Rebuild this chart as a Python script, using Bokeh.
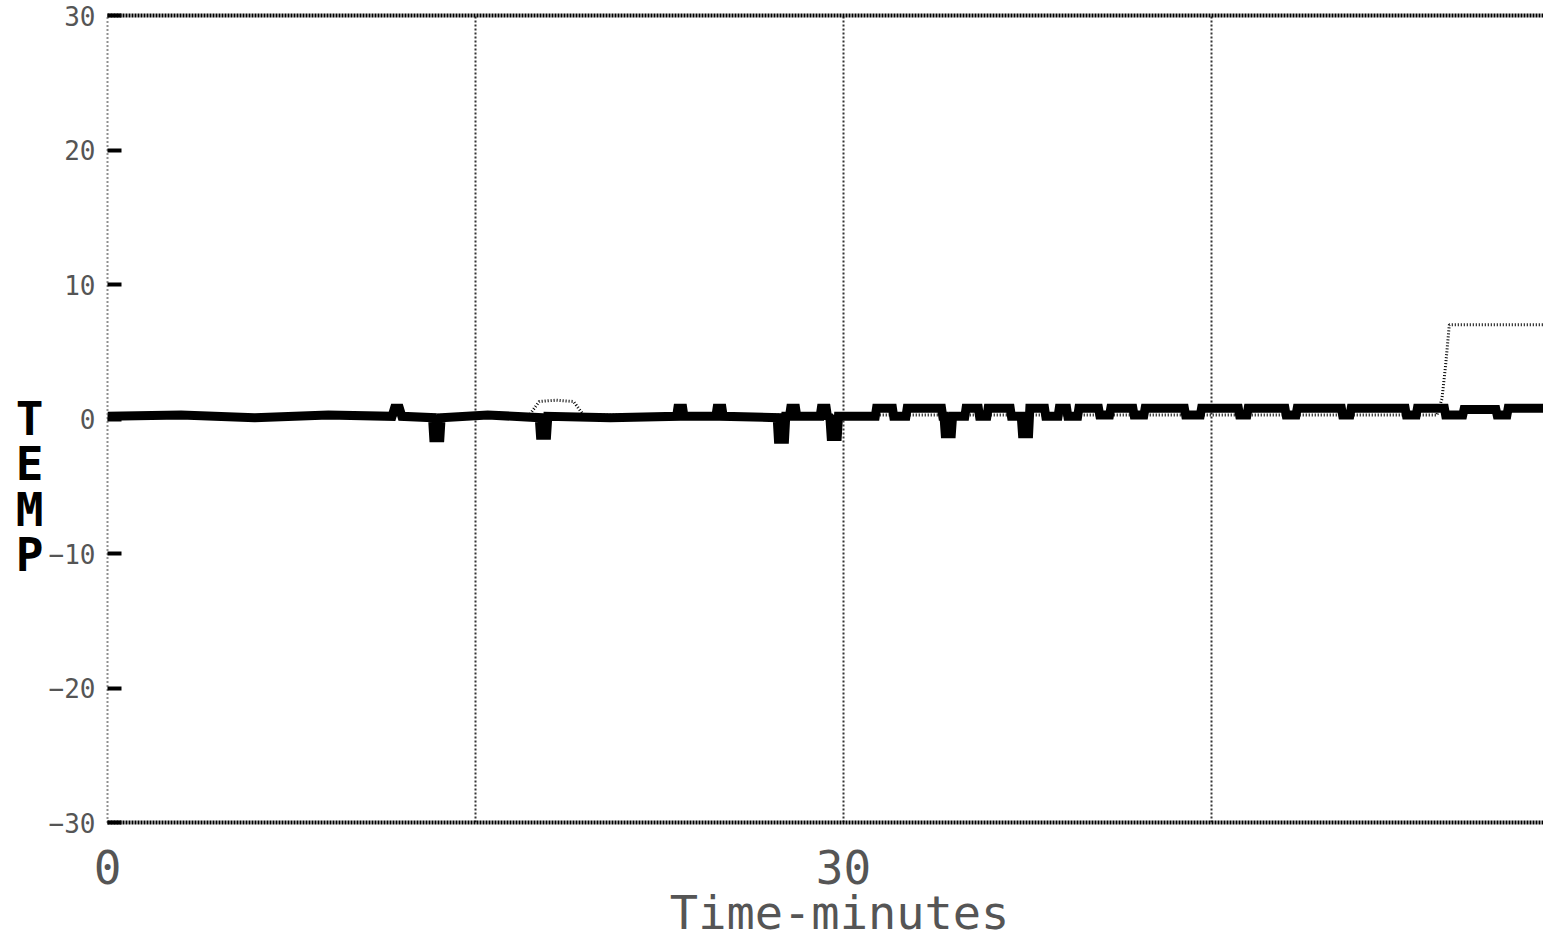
from bokeh.plotting import figure
from bokeh.models import Range1d, FixedTicker, LinearAxis
from bokeh.embed import file_html
from bokeh.resources import INLINE

# ---- data ----
# main trace (thick), time in minutes, TEMP values
trace_t = [0.0, 3.0, 6.0, 9.0, 11.6, 11.7, 11.9, 12.0, 13.25, 13.3, 13.55, 13.6, 15.5,
           17.6, 17.65, 17.9, 17.95, 20.5, 23.2, 23.25, 23.45, 23.5, 24.8, 24.85, 25.05,
           25.1, 27.3, 27.35, 27.6, 27.65, 27.8, 27.85, 28.05, 28.1, 29.05, 29.1, 29.3,
           29.35, 29.45, 29.5, 29.75, 29.8, 31.3, 31.35, 32.0, 32.05, 32.55, 32.6, 34.0,
           34.05, 34.1, 34.15, 34.4, 34.45, 34.95, 35.0, 35.5, 35.55, 35.85, 35.9, 36.8,
           36.85, 37.25, 37.3, 37.55, 37.6, 38.2, 38.25, 38.75, 38.8, 39.1, 39.15, 39.55,
           39.6, 40.4, 40.45, 40.85, 40.9, 41.8, 41.85, 42.25, 42.3, 43.9, 43.95, 44.55,
           44.6, 46.1, 46.15, 46.45, 46.5, 48.0, 48.05, 48.45, 48.5, 50.3, 50.35, 50.65,
           50.7, 52.9, 52.95, 53.35, 53.4, 54.5, 54.55, 55.25, 55.3, 56.6, 56.65, 57.05,
           57.1, 58.9]
trace_v = [0.2, 0.3, 0.1, 0.3, 0.2, 0.8, 0.8, 0.2, 0.1, -1.4, -1.4, 0.1, 0.3,
           0.1, -1.2, -1.2, 0.2, 0.1, 0.2, 0.8, 0.8, 0.2, 0.2, 0.8, 0.8,
           0.2, 0.1, -1.5, -1.5, 0.2, 0.2, 0.8, 0.8, 0.2, 0.2, 0.8, 0.8,
           0.2, 0.1, -1.3, -1.3, 0.2, 0.2, 0.8, 0.8, 0.2, 0.2, 0.8, 0.8,
           0.2, 0.2, -1.1, -1.1, 0.2, 0.2, 0.8, 0.8, 0.2, 0.2, 0.8, 0.8,
           0.2, 0.2, -1.1, -1.1, 0.8, 0.8, 0.2, 0.2, 0.8, 0.8, 0.2, 0.2,
           0.8, 0.8, 0.3, 0.3, 0.8, 0.8, 0.3, 0.3, 0.8, 0.8, 0.3, 0.3,
           0.8, 0.8, 0.3, 0.3, 0.8, 0.8, 0.3, 0.3, 0.8, 0.8, 0.3, 0.3,
           0.8, 0.8, 0.3, 0.3, 0.8, 0.8, 0.3, 0.3, 0.7, 0.7, 0.3, 0.3,
           0.8, 0.8]

# second (thin dotted) trace
second_t = [0.0, 17.2, 17.6, 18.3, 19.0, 19.4, 54.2, 54.4, 54.55, 54.7, 58.9]
second_v = [0.2, 0.3, 1.3, 1.4, 1.3, 0.3, 0.3, 1.5, 4.0, 7.0, 7.0]

x_ticks = [0, 30, 60]
grid_minutes = [15, 30, 45]
y_ticks = [-30, -20, -10, 0, 10, 20, 30]
y_label = "\n\n\nT\nE\nM\nP"
x_label = "\u00a0Time-minutes"

p = figure(width=1543, height=943, output_backend="svg",
           toolbar_location=None,
           x_range=Range1d(0, 58.54), y_range=Range1d(-30, 30),
           min_border_left=107, min_border_right=0, min_border_top=15,
           min_border_bottom=121)

p.background_fill_color = "white"
p.border_fill_color = "white"
p.outline_line_color = None

# grids
p.ygrid.visible = False
p.xgrid.ticker = FixedTicker(ticks=grid_minutes)
p.xgrid.grid_line_color = "#333333"
p.xgrid.grid_line_width = 2
p.xgrid.grid_line_dash = "2 2"

# x axis (bottom)
xa = p.below[0]
xa.ticker = FixedTicker(ticks=x_ticks)
xa.axis_label = x_label
xa.axis_label_text_font = "DejaVu Sans Mono"
xa.axis_label_text_font_size = "47px"
xa.axis_label_text_font_style = "normal"
xa.axis_label_text_color = "#555555"
xa.axis_label_standoff = -2
xa.major_label_text_font = "DejaVu Sans Mono"
xa.major_label_text_font_size = "46px"
xa.major_label_text_color = "#555555"
xa.major_label_standoff = 27
xa.major_tick_in = 0
xa.major_tick_out = 0
xa.minor_tick_in = 0
xa.minor_tick_out = 0
xa.axis_line_color = "black"
xa.axis_line_width = 4
xa.axis_line_dash = "2 1"

# top border drawn as a bare axis
top = LinearAxis(ticker=FixedTicker(ticks=[]), major_label_text_font_size="0px",
                 major_tick_in=0, major_tick_out=0, minor_tick_in=0, minor_tick_out=0,
                 major_label_standoff=0,
                 axis_line_color="black", axis_line_width=4, axis_line_dash="2 1")
p.add_layout(top, "above")

# y axis
ya = p.left[0]
ya.ticker = FixedTicker(ticks=y_ticks)
ya.axis_label = y_label
ya.axis_label_orientation = "horizontal"
ya.axis_label_text_font = "DejaVu Sans Mono"
ya.axis_label_text_font_size = "46px"
ya.axis_label_text_font_style = "bold"
ya.axis_label_text_color = "black"
ya.axis_label_text_line_height = 0.84
ya.axis_label_standoff = 2
ya.major_label_text_font = "DejaVu Sans Mono"
ya.major_label_text_font_size = "26px"
ya.major_label_text_color = "#555555"
ya.major_label_standoff = 12
ya.major_tick_in = 14
ya.major_tick_out = 0
ya.major_tick_line_width = 4
ya.major_tick_line_color = "black"
ya.minor_tick_in = 0
ya.minor_tick_out = 0
ya.axis_line_color = "#222222"
ya.axis_line_width = 2
ya.axis_line_dash = "1 3"

# data
p.line(trace_t, trace_v, line_color="black", line_width=9, line_join="miter")
p.line(second_t, second_v, line_color="black", line_width=3, line_dash="1 2")

open("out.html", "w").write(file_html(p, INLINE))
